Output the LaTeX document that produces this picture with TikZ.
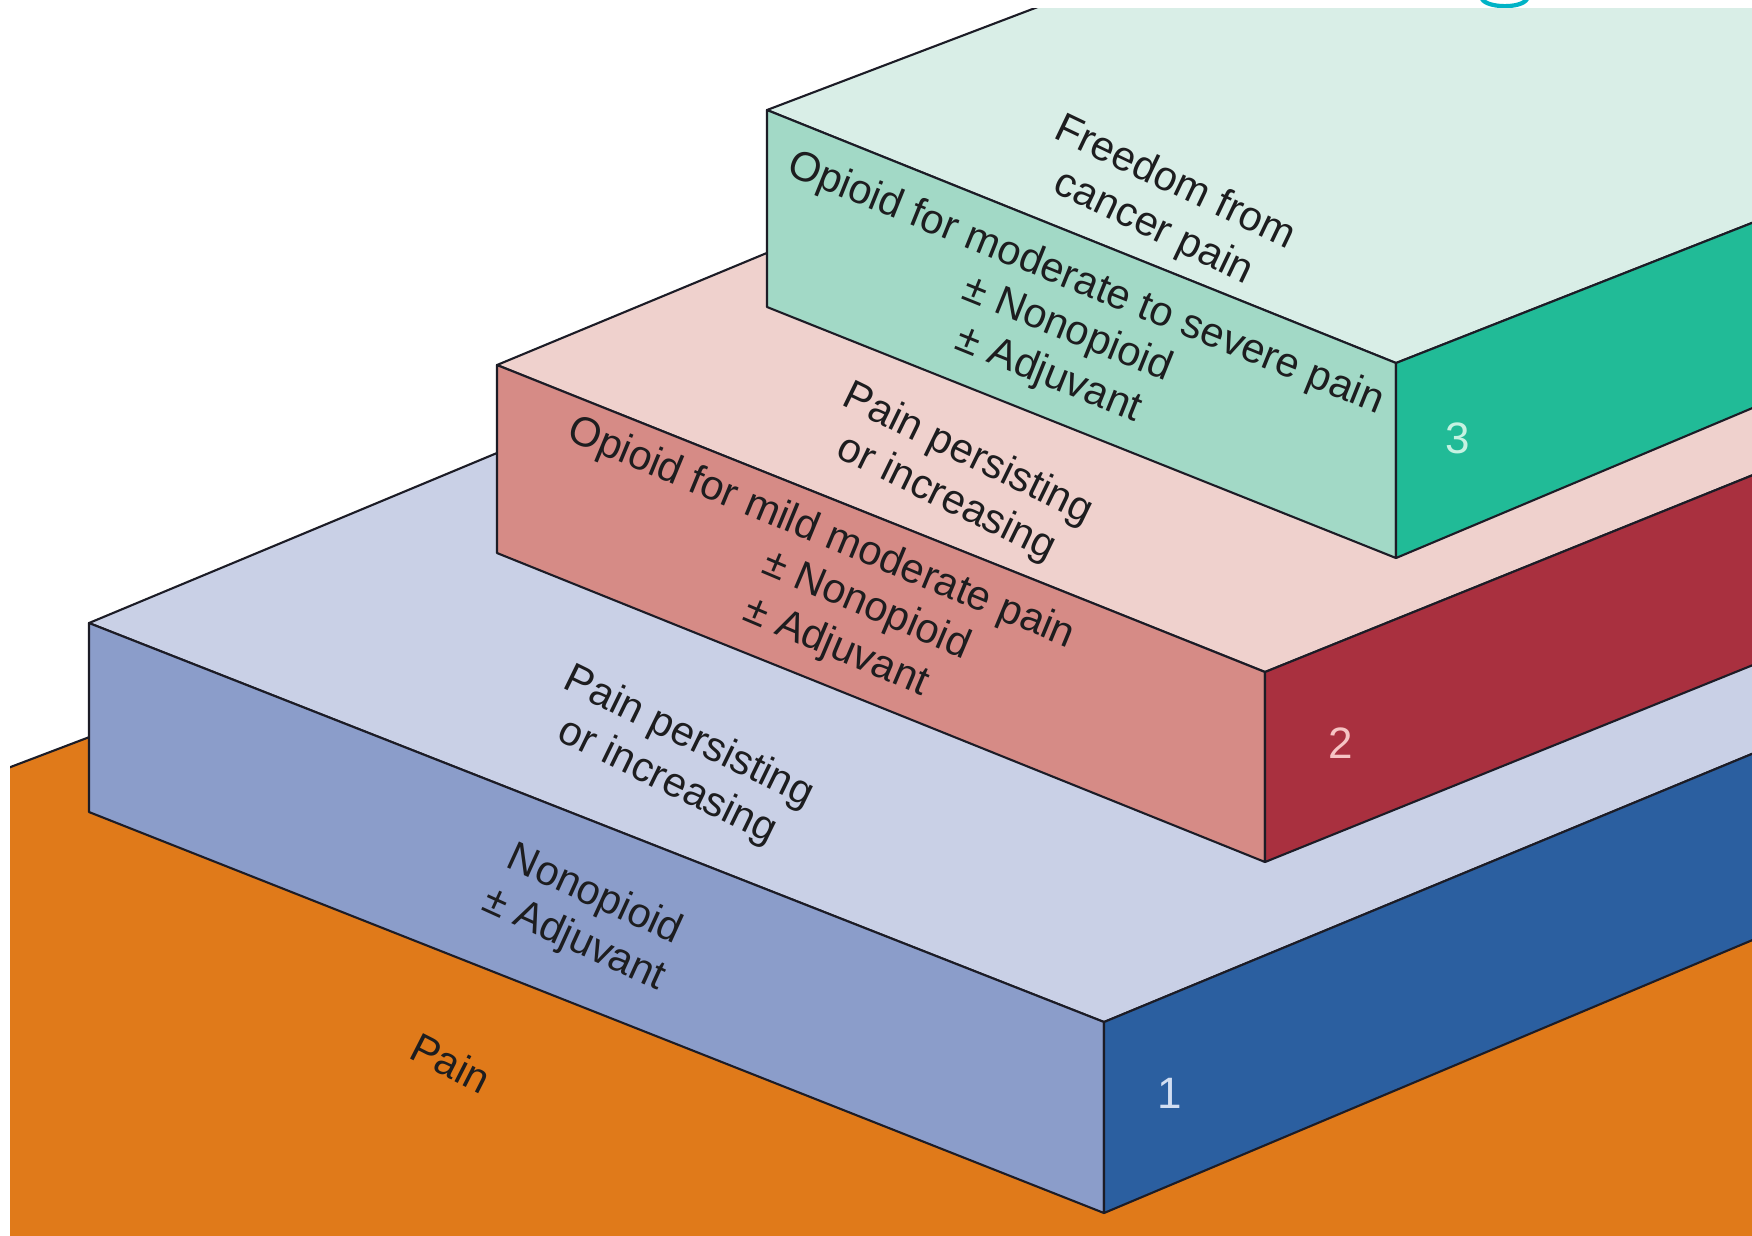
\documentclass[tikz,border=0pt]{standalone}
\usepackage{fontspec}
\setmainfont{Liberation Sans}
\definecolor{edge}{HTML}{1C1C26}
\definecolor{ink}{HTML}{1D1D1F}
\definecolor{floor}{HTML}{E07A1A}
\definecolor{topA}{HTML}{C9D0E6}
\definecolor{frontA}{HTML}{8B9DCA}
\definecolor{sideA}{HTML}{2B5FA0}
\definecolor{topB}{HTML}{EFD1CD}
\definecolor{frontB}{HTML}{D68B86}
\definecolor{sideB}{HTML}{A9303F}
\definecolor{topC}{HTML}{D9EEE7}
\definecolor{frontC}{HTML}{A2D9C6}
\definecolor{sideC}{HTML}{21BB97}
\definecolor{numA}{HTML}{D2DEF2}
\definecolor{numB}{HTML}{F6C4C4}
\definecolor{numC}{HTML}{C6F2E2}
\definecolor{glyph}{HTML}{00B3C6}
\begin{document}
\begin{tikzpicture}[x=.01cm,y=-.01cm,
    face/.style={draw=edge,line width=.6pt,line join=round},
    txt/.style={align=center,text=ink,inner sep=0pt,font=\fontsize{11.8}{14}\selectfont},
    num/.style={inner sep=0pt,font=\fontsize{12.5}{14}\selectfont}]
  \fill[white] (0,0) rectangle (1752,1235);
  \useasboundingbox (0,0) rectangle (1752,1235);
  \draw[glyph,line width=1.2pt] (1482,-1) .. controls (1487,8) and (1521,9) .. (1527,-1);
  \begin{scope}
    \clip (10,8) rectangle (1752,1235);
    % floor
    \fill[floor] (-50,790) -- (1800,87) -- (1800,1300) -- (-50,1300) -- cycle;
    \draw[face] (-50,790) -- (1800,87);
    % step 1
    \filldraw[face,fill=topA] (89,623) -- (1104,1022) -- (1800,734) -- (1800,-90) -- cycle;
    \filldraw[face,fill=frontA] (89,623) -- (1104,1022) -- (1104,1213) -- (89,812) -- cycle;
    \filldraw[face,fill=sideA] (1104,1022) -- (1800,734) -- (1800,920) -- (1104,1213) -- cycle;
    % step 2
    \filldraw[face,fill=topB] (497,365) -- (1265,672) -- (1800,456) -- (1800,-176) -- cycle;
    \filldraw[face,fill=frontB] (497,365) -- (1265,672) -- (1265,862) -- (497,553) -- cycle;
    \filldraw[face,fill=sideB] (1265,672) -- (1800,456) -- (1800,646) -- (1265,862) -- cycle;
    % step 3
    \filldraw[face,fill=topC] (767,110) -- (1396,363) -- (1800,204) -- (1800,-283) -- cycle;
    \filldraw[face,fill=frontC] (767,110) -- (1396,363) -- (1396,558) -- (767,307) -- cycle;
    \filldraw[face,fill=sideC] (1396,363) -- (1800,204) -- (1800,388) -- (1396,558) -- cycle;
  \end{scope}
  % labels
  \node[txt,rotate=-25.5] (freedom) at (1164,206) {Freedom from\\cancer pain};
  \node[txt,rotate=-22] (opioidsevere) at (1067,330)
    {Opioid for moderate to severe pain\\± Nonopioid\\± Adjuvant};
  \node[txt,rotate=-26] (persistTwo) at (957,477) {Pain persisting\\or increasing};
  \node[txt,rotate=-22.5] (opioidmild) at (821,534) {Opioid for mild moderate pain};
  \node[txt,rotate=-23] (nonopTwo) at (866,606) {± Nonopioid};
  \node[txt,rotate=-23] (adjuvTwo) at (836,648) {± Adjuvant};
  \node[txt,rotate=-26] (persistOne) at (678,760) {Pain persisting\\or increasing};
  \node[txt,rotate=-24.5] (nonopioid) at (584,918) {Nonopioid\\± Adjuvant};
  \node[txt,rotate=-27] (pain) at (451,1063) {Pain};
  \node[num,text=numC] (stepthree) at (1458,438) {3};
  \node[num,text=numB] (steptwo) at (1341,743) {2};
  \node[num,text=numA] (stepone) at (1170,1093) {1};
\end{tikzpicture}
\end{document}
